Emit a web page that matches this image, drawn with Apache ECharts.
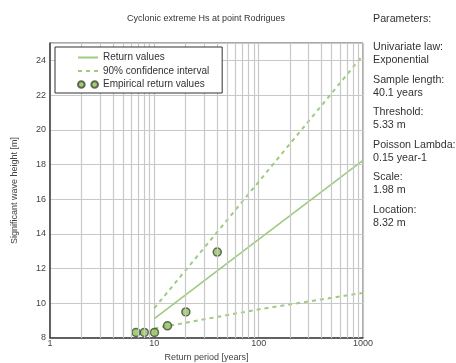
<!DOCTYPE html>
<html>
<head>
<meta charset="utf-8">
<script src="https://cdn.jsdelivr.net/npm/echarts@6/dist/echarts.min.js"></script>
<style>
  html, body { margin: 0; padding: 0; background: #fff; }
  #chart { width: 456px; height: 363px; }
</style>
</head>
<body>
<div id="chart"></div>
<script>
// Return-period analysis, exponential fit (log-scaled return period axis)
const titleText = 'Cyclonic extreme Hs at point Rodrigues';

// Fitted return values and 90% confidence band [return period, Hs]
const returnValues = [[10, 9.12], [100, 13.68], [1000, 18.24]];
const ciUpper = [[10, 9.72], [100, 17.0], [1000, 24.3]];
const ciLower = [[10, 8.55], [100, 9.65], [1000, 10.6]];

// Empirical return values [return period, Hs]
const empirical = [[6.68, 8.32], [8.02, 8.32], [10.03, 8.32], [13.37, 8.7], [20.05, 9.5], [40.1, 12.95]];

// Intermediate log-decade grid positions
const minorGrid = [2, 3, 4, 5, 6, 7, 8, 9, 20, 30, 40, 50, 60, 70, 80, 90, 200, 300, 400, 500, 600, 700, 800, 900];

// Fit parameters listed beside the chart
const paramLines = [
  ['Univariate law:', 'Exponential'],
  ['Sample length:', '40.1 years'],
  ['Threshold:', '5.33 m'],
  ['Poisson Lambda:', '0.15 year-1'],
  ['Scale:', '1.98 m'],
  ['Location:', '8.32 m']
];

const FONT = '"Liberation Sans", Arial, sans-serif';
const GREEN = '#9dcb7f';
const GRIDC = '#c8c8c8';

const graphics = [{
  type: 'text', left: 373, top: 14,
  style: { text: 'Parameters:', font: '10.7px ' + FONT, fill: '#333' }
}];
paramLines.forEach((p, i) => {
  graphics.push({
    type: 'text', left: 373, top: 41 + i * 32.5,
    style: { text: p[0] + '\n' + p[1], font: '10.7px ' + FONT, fill: '#333', lineHeight: 13 }
  });
});

// legend line entries: hide the centre marker, keep the stroke
const noMarker = { color: 'rgba(0,0,0,0)', borderWidth: 0, opacity: 0 };

const chart = echarts.init(document.getElementById('chart'), null, { renderer: 'canvas' });
chart.setOption({
  animation: false,
  title: {
    text: titleText, left: 201, top: 9, textAlign: 'center',
    textStyle: { fontSize: 9, fontWeight: 'normal', color: '#333', fontFamily: FONT }
  },
  grid: {
    left: 50, right: 93, top: 43, bottom: 25, outerBoundsMode: 'none', containLabel: false,
    show: true, borderColor: '#555', borderWidth: 1, backgroundColor: 'transparent'
  },
  legend: {
    left: 55, top: 47, orient: 'vertical', z: 20,
    data: [
      { name: 'Return values', itemStyle: noMarker },
      { name: '90% confidence interval', itemStyle: noMarker },
      { name: 'Empirical return values', icon: 'path://M0,3a3,3 0 1,0 6,0a3,3 0 1,0 -6,0M12,3a3,3 0 1,0 6,0a3,3 0 1,0 -6,0' }
    ],
    itemWidth: 20, itemHeight: 7, itemGap: 0.5,
    padding: [4, 13, 2, 22],
    backgroundColor: '#fff', borderColor: '#333', borderWidth: 1,
    textStyle: { fontSize: 10, color: '#333', fontFamily: FONT, lineHeight: 13 },
    selectedMode: false
  },
  xAxis: {
    type: 'log', logBase: 10, min: 1, max: 1000,
    name: 'Return period [years]', nameLocation: 'middle', nameGap: 13,
    nameTextStyle: { fontSize: 9, color: '#444', fontFamily: FONT },
    axisLine: { lineStyle: { color: '#444', width: 1.5 } },
    axisTick: { show: false },
    axisLabel: { fontSize: 9, color: '#444', fontFamily: FONT, margin: 1, formatter: v => String(v) },
    splitLine: { show: true, lineStyle: { color: GRIDC, width: 1.2 } }
  },
  yAxis: {
    type: 'value', min: 8, max: 25, interval: 2,
    name: 'Significant wave height [m]', nameLocation: 'middle', nameGap: 31,
    nameTextStyle: { fontSize: 9, color: '#444', fontFamily: FONT },
    axisLine: { show: true, lineStyle: { color: '#444', width: 1.5 } },
    axisTick: { show: false },
    axisLabel: { fontSize: 9, color: '#444', fontFamily: FONT, margin: 4, showMaxLabel: false },
    splitLine: { show: true, lineStyle: { color: GRIDC, width: 1.2 } }
  },
  graphic: graphics,
  series: [
    {
      name: 'grid-minor', type: 'line', data: [], silent: true, z: 1,
      markLine: {
        silent: true, symbol: ['none', 'none'], label: { show: false },
        lineStyle: { color: GRIDC, width: 1.2, type: 'solid' },
        data: minorGrid.map(v => ({ xAxis: v }))
      }
    },
    {
      name: 'Return values', type: 'line', data: returnValues, symbol: 'none',
      lineStyle: { color: GREEN, width: 1.6 }, itemStyle: { color: GREEN }, z: 3
    },
    {
      name: '90% confidence interval', type: 'line', data: ciUpper, symbol: 'none',
      lineStyle: { color: GREEN, width: 2, type: [4, 4] }, itemStyle: { color: GREEN }, z: 3
    },
    {
      name: '90% confidence interval', type: 'line', data: ciLower, symbol: 'none',
      lineStyle: { color: GREEN, width: 2, type: [4, 4] }, itemStyle: { color: GREEN }, z: 3
    },
    {
      name: 'Empirical return values', type: 'scatter', data: empirical,
      symbol: 'circle', symbolSize: 8, symbolKeepAspect: true,
      itemStyle: { color: '#8dc05a', borderColor: '#3d4a30', borderWidth: 1.5 }, z: 4
    }
  ]
});
</script>
</body>
</html>
